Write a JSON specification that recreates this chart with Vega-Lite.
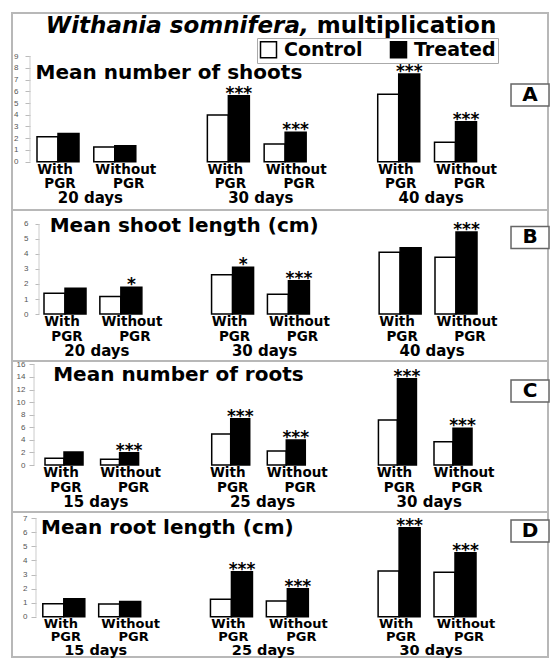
{
  "$schema": "https://vega.github.io/schema/vega-lite/v6.json",
  "background": "white",
  "padding": {"left": 11, "top": 12, "right": 0, "bottom": 0},
  "spacing": 0,
  "bounds": "flush",
  "config": {
    "view": {"stroke": "#b8b8b8", "strokeWidth": 2},
    "text": {"font": "DejaVu Sans", "fontWeight": "bold", "color": "#000"},
    "axisY": {"labelOverlap": false, "labelFlush": false, "tickCount": 30, "format": "d", "domain": false, "grid": false, "title": null, "labelFontSize": 8, "labelColor": "#555", "tickColor": "#bbb", "labelFont": "Liberation Sans"}
  },
  "resolve": {
    "scale": {"x": "independent", "y": "independent", "xOffset": "independent", "fill": "independent"},
    "legend": {"fill": "independent"}
  },
  "datasets": {
    "bars": [
      {"panel": "A", "group": "20 days|With", "day": "20 days", "cond": "With", "series": "Control", "value": 2.13, "sig": ""},
      {"panel": "A", "group": "20 days|With", "day": "20 days", "cond": "With", "series": "Treated", "value": 2.4, "sig": ""},
      {"panel": "A", "group": "20 days|Without", "day": "20 days", "cond": "Without", "series": "Control", "value": 1.25, "sig": ""},
      {"panel": "A", "group": "20 days|Without", "day": "20 days", "cond": "Without", "series": "Treated", "value": 1.35, "sig": ""},
      {"panel": "A", "group": "30 days|With", "day": "30 days", "cond": "With", "series": "Control", "value": 3.98, "sig": ""},
      {"panel": "A", "group": "30 days|With", "day": "30 days", "cond": "With", "series": "Treated", "value": 5.62, "sig": "***"},
      {"panel": "A", "group": "30 days|Without", "day": "30 days", "cond": "Without", "series": "Control", "value": 1.51, "sig": ""},
      {"panel": "A", "group": "30 days|Without", "day": "30 days", "cond": "Without", "series": "Treated", "value": 2.5, "sig": "***"},
      {"panel": "A", "group": "40 days|With", "day": "40 days", "cond": "With", "series": "Control", "value": 5.74, "sig": ""},
      {"panel": "A", "group": "40 days|With", "day": "40 days", "cond": "With", "series": "Treated", "value": 7.47, "sig": "***"},
      {"panel": "A", "group": "40 days|Without", "day": "40 days", "cond": "Without", "series": "Control", "value": 1.65, "sig": ""},
      {"panel": "A", "group": "40 days|Without", "day": "40 days", "cond": "Without", "series": "Treated", "value": 3.41, "sig": "***"},

      {"panel": "B", "group": "20 days|With", "day": "20 days", "cond": "With", "series": "Control", "value": 1.38, "sig": ""},
      {"panel": "B", "group": "20 days|With", "day": "20 days", "cond": "With", "series": "Treated", "value": 1.71, "sig": ""},
      {"panel": "B", "group": "20 days|Without", "day": "20 days", "cond": "Without", "series": "Control", "value": 1.16, "sig": ""},
      {"panel": "B", "group": "20 days|Without", "day": "20 days", "cond": "Without", "series": "Treated", "value": 1.78, "sig": "*"},
      {"panel": "B", "group": "30 days|With", "day": "30 days", "cond": "With", "series": "Control", "value": 2.62, "sig": ""},
      {"panel": "B", "group": "30 days|With", "day": "30 days", "cond": "With", "series": "Treated", "value": 3.11, "sig": "*"},
      {"panel": "B", "group": "30 days|Without", "day": "30 days", "cond": "Without", "series": "Control", "value": 1.32, "sig": ""},
      {"panel": "B", "group": "30 days|Without", "day": "30 days", "cond": "Without", "series": "Treated", "value": 2.22, "sig": "***"},
      {"panel": "B", "group": "40 days|With", "day": "40 days", "cond": "With", "series": "Control", "value": 4.11, "sig": ""},
      {"panel": "B", "group": "40 days|With", "day": "40 days", "cond": "With", "series": "Treated", "value": 4.42, "sig": ""},
      {"panel": "B", "group": "40 days|Without", "day": "40 days", "cond": "Without", "series": "Control", "value": 3.78, "sig": ""},
      {"panel": "B", "group": "40 days|Without", "day": "40 days", "cond": "Without", "series": "Treated", "value": 5.47, "sig": "***"},

      {"panel": "C", "group": "15 days|With", "day": "15 days", "cond": "With", "series": "Control", "value": 1.06, "sig": ""},
      {"panel": "C", "group": "15 days|With", "day": "15 days", "cond": "With", "series": "Treated", "value": 2.07, "sig": ""},
      {"panel": "C", "group": "15 days|Without", "day": "15 days", "cond": "Without", "series": "Control", "value": 0.9, "sig": ""},
      {"panel": "C", "group": "15 days|Without", "day": "15 days", "cond": "Without", "series": "Treated", "value": 1.96, "sig": "***"},
      {"panel": "C", "group": "25 days|With", "day": "25 days", "cond": "With", "series": "Control", "value": 4.93, "sig": ""},
      {"panel": "C", "group": "25 days|With", "day": "25 days", "cond": "With", "series": "Treated", "value": 7.36, "sig": "***"},
      {"panel": "C", "group": "25 days|Without", "day": "25 days", "cond": "Without", "series": "Control", "value": 2.23, "sig": ""},
      {"panel": "C", "group": "25 days|Without", "day": "25 days", "cond": "Without", "series": "Treated", "value": 3.97, "sig": "***"},
      {"panel": "C", "group": "30 days|With", "day": "30 days", "cond": "With", "series": "Control", "value": 7.15, "sig": ""},
      {"panel": "C", "group": "30 days|With", "day": "30 days", "cond": "With", "series": "Treated", "value": 13.7, "sig": "***"},
      {"panel": "C", "group": "30 days|Without", "day": "30 days", "cond": "Without", "series": "Control", "value": 3.7, "sig": ""},
      {"panel": "C", "group": "30 days|Without", "day": "30 days", "cond": "Without", "series": "Treated", "value": 5.83, "sig": "***"},

      {"panel": "D", "group": "15 days|With", "day": "15 days", "cond": "With", "series": "Control", "value": 0.92, "sig": ""},
      {"panel": "D", "group": "15 days|With", "day": "15 days", "cond": "With", "series": "Treated", "value": 1.28, "sig": ""},
      {"panel": "D", "group": "15 days|Without", "day": "15 days", "cond": "Without", "series": "Control", "value": 0.9, "sig": ""},
      {"panel": "D", "group": "15 days|Without", "day": "15 days", "cond": "Without", "series": "Treated", "value": 1.09, "sig": ""},
      {"panel": "D", "group": "25 days|With", "day": "25 days", "cond": "With", "series": "Control", "value": 1.24, "sig": ""},
      {"panel": "D", "group": "25 days|With", "day": "25 days", "cond": "With", "series": "Treated", "value": 3.2, "sig": "***"},
      {"panel": "D", "group": "25 days|Without", "day": "25 days", "cond": "Without", "series": "Control", "value": 1.12, "sig": ""},
      {"panel": "D", "group": "25 days|Without", "day": "25 days", "cond": "Without", "series": "Treated", "value": 1.99, "sig": "***"},
      {"panel": "D", "group": "30 days|With", "day": "30 days", "cond": "With", "series": "Control", "value": 3.25, "sig": ""},
      {"panel": "D", "group": "30 days|With", "day": "30 days", "cond": "With", "series": "Treated", "value": 6.33, "sig": "***"},
      {"panel": "D", "group": "30 days|Without", "day": "30 days", "cond": "Without", "series": "Control", "value": 3.16, "sig": ""},
      {"panel": "D", "group": "30 days|Without", "day": "30 days", "cond": "Without", "series": "Treated", "value": 4.55, "sig": "***"}
    ]
  },
  "vconcat": [
    {
      "width": 536, "height": 197,
      "layer": [
        {"data": {"name": "bars"}, "transform": [{"filter": "datum.panel == 'A'"}],
         "mark": {"type": "bar", "stroke": "#000", "strokeWidth": 1.5},
         "encoding": {
           "x": {"field": "group", "type": "nominal", "axis": null, "scale": {"domain": ["20 days|With", "20 days|Without", "gap1", "30 days|With", "30 days|Without", "gap2", "40 days|With", "40 days|Without"], "paddingInner": 0.2604, "paddingOuter": 0.8496, "align": 0.2591}},
           "xOffset": {"field": "series", "type": "nominal", "scale": {"domain": ["Control", "Treated"], "paddingInner": 0, "paddingOuter": 0}},
           "y": {"field": "value", "type": "quantitative", "scale": {"domain": [-4.114, 12.666], "nice": false, "zero": false}, "axis": {"values": [0, 1, 2, 3, 4, 5, 6, 7, 8, 9], "format": "d", "tickCount": 30, "labelOverlap": false, "offset": -18, "tickSize": 5, "labelPadding": 7}},
           "fill": {"field": "series", "type": "nominal", "scale": {"domain": ["Control", "Treated"], "range": ["#ffffff", "#000000"]},
             "legend": {"orient": "none", "legendX": 245, "legendY": 25, "direction": "horizontal", "title": null, "symbolType": "square", "symbolSize": 256, "symbolStrokeColor": "#000", "symbolStrokeWidth": 1.5, "labelFont": "DejaVu Sans", "labelFontWeight": "bold", "labelFontSize": 19, "labelColor": "#000", "labelOffset": 6, "columnPadding": 24, "strokeColor": "#aaa", "fillColor": "#fff", "padding": 2}}
         }},
        {"data": {"values": [{}]}, "mark": {"type": "rule", "color": "#ccc", "strokeWidth": 1},
         "encoding": {"x": {"datum": "20 days|With", "bandPosition": -0.1667, "axis": null}, "y": {"datum": 0}, "y2": {"datum": 9}}},
        {"data": {"name": "bars"}, "transform": [{"filter": "datum.panel == 'A' && datum.series == 'Treated'"}],
         "mark": {"type": "text", "fontSize": 17, "baseline": "alphabetic", "dy": 3},
         "encoding": {"x": {"field": "group", "type": "nominal", "bandPosition": 0.75, "axis": null}, "y": {"field": "value", "type": "quantitative"}, "text": {"field": "sig"}}},
        {"data": {"name": "bars"}, "transform": [{"filter": "datum.panel == 'A' && datum.series == 'Treated' && datum.cond == 'With'"}],
         "mark": {"type": "text", "fontSize": 13.5, "baseline": "middle", "dy": 8, "dx": -3},
         "encoding": {"x": {"field": "group", "type": "nominal", "bandPosition": 0.5, "axis": null}, "y": {"datum": 0}, "text": {"field": "cond"}}},
        {"data": {"name": "bars"}, "transform": [{"filter": "datum.panel == 'A' && datum.series == 'Treated' && datum.cond == 'Without'"}],
         "mark": {"type": "text", "fontSize": 13.5, "baseline": "middle", "dy": 8, "dx": 11},
         "encoding": {"x": {"field": "group", "type": "nominal", "bandPosition": 0.5, "axis": null}, "y": {"datum": 0}, "text": {"field": "cond"}}},
        {"data": {"name": "bars"}, "transform": [{"filter": "datum.panel == 'A' && datum.series == 'Treated' && datum.cond == 'With'"}],
         "mark": {"type": "text", "fontSize": 13.5, "baseline": "middle", "dy": 22.5, "dx": 2},
         "encoding": {"x": {"field": "group", "type": "nominal", "bandPosition": 0.5, "axis": null}, "y": {"datum": 0}, "text": {"value": "PGR"}}},
        {"data": {"name": "bars"}, "transform": [{"filter": "datum.panel == 'A' && datum.series == 'Treated' && datum.cond == 'Without'"}],
         "mark": {"type": "text", "fontSize": 13.5, "baseline": "middle", "dy": 22.5, "dx": 14},
         "encoding": {"x": {"field": "group", "type": "nominal", "bandPosition": 0.5, "axis": null}, "y": {"datum": 0}, "text": {"value": "PGR"}}},
        {"data": {"name": "bars"}, "transform": [{"filter": "datum.panel == 'A' && datum.series == 'Treated' && datum.cond == 'With'"}],
         "mark": {"type": "text", "fontSize": 15, "baseline": "middle", "dy": 36.5, "dx": 4},
         "encoding": {"x": {"field": "group", "type": "nominal", "bandPosition": 1.176, "axis": null}, "y": {"datum": 0}, "text": {"field": "day"}}},
        {"data": {"values": [{"t": "Mean number of shoots"}]}, "mark": {"type": "text", "fontSize": 20, "align": "left", "baseline": "alphabetic"},
         "encoding": {"x": {"datum": "20 days|With", "bandPosition": -0.033, "axis": null}, "y": {"datum": 7.04}, "text": {"field": "t"}}},
        {"data": {"values": [{"t": "A"}]}, "mark": {"type": "point", "shape": "M-1,-0.58L1,-0.58L1,0.58L-1,0.58Z", "size": 1444, "filled": true, "fill": "#fff", "stroke": "#666", "strokeWidth": 1.5, "opacity": 1},
         "encoding": {"x": {"datum": "40 days|Without", "bandPosition": 2.274, "axis": null}, "y": {"datum": 5.68}}},
        {"data": {"values": [{"t": "A"}]}, "mark": {"type": "text", "fontSize": 20, "align": "center", "baseline": "middle"},
         "encoding": {"x": {"datum": "40 days|Without", "bandPosition": 2.274, "axis": null}, "y": {"datum": 5.68}, "text": {"field": "t"}}},
        {"data": {"values": [{"t": "Withania somnifera,"}]}, "mark": {"type": "text", "fontSize": 23, "fontStyle": "italic", "align": "right", "baseline": "alphabetic"},
         "encoding": {"x": {"datum": "20 days|With", "bandPosition": 6.469, "axis": null}, "y": {"datum": 10.95}, "text": {"field": "t"}}},
        {"data": {"values": [{"t": "multiplication"}]}, "mark": {"type": "text", "fontSize": 23, "align": "left", "baseline": "alphabetic"},
         "encoding": {"x": {"datum": "20 days|With", "bandPosition": 6.66, "axis": null}, "y": {"datum": 10.95}, "text": {"field": "t"}}}
      ]
    },
    {
      "width": 536, "height": 151,
      "layer": [
        {"data": {"name": "bars"}, "transform": [{"filter": "datum.panel == 'B'"}],
         "mark": {"type": "bar", "stroke": "#000", "strokeWidth": 1.5},
         "encoding": {
           "x": {"field": "group", "type": "nominal", "axis": null, "scale": {"domain": ["20 days|With", "20 days|Without", "gap1", "30 days|With", "30 days|Without", "gap2", "40 days|With", "40 days|Without"], "paddingInner": 0.248, "paddingOuter": 0.922, "align": 0.3107}},
           "xOffset": {"field": "series", "type": "nominal", "scale": {"domain": ["Control", "Treated"], "paddingInner": 0, "paddingOuter": 0}},
           "y": {"field": "value", "type": "quantitative", "scale": {"domain": [-3.133, 6.933], "nice": false, "zero": false}, "axis": {"values": [0, 1, 2, 3, 4, 5, 6], "format": "d", "tickCount": 30, "labelOverlap": false, "offset": -27, "tickSize": 4, "labelPadding": 7}},
           "fill": {"field": "series", "type": "nominal", "scale": {"domain": ["Control", "Treated"], "range": ["#ffffff", "#000000"]}, "legend": null}
         }},
        {"data": {"values": [{}]}, "mark": {"type": "rule", "color": "#ccc", "strokeWidth": 1},
         "encoding": {"x": {"datum": "20 days|With", "bandPosition": -0.119, "axis": null}, "y": {"datum": 0}, "y2": {"datum": 6}}},
        {"data": {"name": "bars"}, "transform": [{"filter": "datum.panel == 'B' && datum.series == 'Treated'"}],
         "mark": {"type": "text", "fontSize": 17, "baseline": "alphabetic", "dy": 3},
         "encoding": {"x": {"field": "group", "type": "nominal", "bandPosition": 0.75, "axis": null}, "y": {"field": "value", "type": "quantitative"}, "text": {"field": "sig"}}},
        {"data": {"name": "bars"}, "transform": [{"filter": "datum.panel == 'B' && datum.series == 'Treated' && datum.cond == 'With'"}],
         "mark": {"type": "text", "fontSize": 13.5, "baseline": "middle", "dy": 8, "dx": -3},
         "encoding": {"x": {"field": "group", "type": "nominal", "bandPosition": 0.5, "axis": null}, "y": {"datum": 0}, "text": {"field": "cond"}}},
        {"data": {"name": "bars"}, "transform": [{"filter": "datum.panel == 'B' && datum.series == 'Treated' && datum.cond == 'Without'"}],
         "mark": {"type": "text", "fontSize": 13.5, "baseline": "middle", "dy": 8, "dx": 11},
         "encoding": {"x": {"field": "group", "type": "nominal", "bandPosition": 0.5, "axis": null}, "y": {"datum": 0}, "text": {"field": "cond"}}},
        {"data": {"name": "bars"}, "transform": [{"filter": "datum.panel == 'B' && datum.series == 'Treated' && datum.cond == 'With'"}],
         "mark": {"type": "text", "fontSize": 13.5, "baseline": "middle", "dy": 22.5, "dx": 2},
         "encoding": {"x": {"field": "group", "type": "nominal", "bandPosition": 0.5, "axis": null}, "y": {"datum": 0}, "text": {"value": "PGR"}}},
        {"data": {"name": "bars"}, "transform": [{"filter": "datum.panel == 'B' && datum.series == 'Treated' && datum.cond == 'Without'"}],
         "mark": {"type": "text", "fontSize": 13.5, "baseline": "middle", "dy": 22.5, "dx": 14},
         "encoding": {"x": {"field": "group", "type": "nominal", "bandPosition": 0.5, "axis": null}, "y": {"datum": 0}, "text": {"value": "PGR"}}},
        {"data": {"name": "bars"}, "transform": [{"filter": "datum.panel == 'B' && datum.series == 'Treated' && datum.cond == 'With'"}],
         "mark": {"type": "text", "fontSize": 15, "baseline": "middle", "dy": 36.5, "dx": 4},
         "encoding": {"x": {"field": "group", "type": "nominal", "bandPosition": 1.165, "axis": null}, "y": {"datum": 0}, "text": {"field": "day"}}},
        {"data": {"values": [{"t": "Mean shoot length (cm)"}]}, "mark": {"type": "text", "fontSize": 20, "align": "left", "baseline": "alphabetic"},
         "encoding": {"x": {"datum": "20 days|With", "bandPosition": 0.136, "axis": null}, "y": {"datum": 5.49}, "text": {"field": "t"}}},
        {"data": {"values": [{"t": "B"}]}, "mark": {"type": "point", "shape": "M-1,-0.58L1,-0.58L1,0.58L-1,0.58Z", "size": 1444, "filled": true, "fill": "#fff", "stroke": "#666", "strokeWidth": 1.5, "opacity": 1},
         "encoding": {"x": {"datum": "40 days|Without", "bandPosition": 2.262, "axis": null}, "y": {"datum": 5.1}}},
        {"data": {"values": [{"t": "B"}]}, "mark": {"type": "text", "fontSize": 20, "align": "center", "baseline": "middle"},
         "encoding": {"x": {"datum": "40 days|Without", "bandPosition": 2.262, "axis": null}, "y": {"datum": 5.1}, "text": {"field": "t"}}}
      ]
    },
    {
      "width": 536, "height": 151,
      "layer": [
        {"data": {"name": "bars"}, "transform": [{"filter": "datum.panel == 'C'"}],
         "mark": {"type": "bar", "stroke": "#000", "strokeWidth": 1.5},
         "encoding": {
           "x": {"field": "group", "type": "nominal", "axis": null, "scale": {"domain": ["15 days|With", "15 days|Without", "gap1", "25 days|With", "25 days|Without", "gap2", "30 days|With", "30 days|Without"], "paddingInner": 0.316, "paddingOuter": 0.9807, "align": 0.3028}},
           "xOffset": {"field": "series", "type": "nominal", "scale": {"domain": ["Control", "Treated"], "paddingInner": 0, "paddingOuter": 0}},
           "y": {"field": "value", "type": "quantitative", "scale": {"domain": [-7.472, 16.534], "nice": false, "zero": false}, "axis": {"values": [0, 2, 4, 6, 8, 10, 12, 14, 16], "format": "d", "tickCount": 30, "labelOverlap": false, "offset": -22, "tickSize": 5, "labelPadding": 4}},
           "fill": {"field": "series", "type": "nominal", "scale": {"domain": ["Control", "Treated"], "range": ["#ffffff", "#000000"]}, "legend": null}
         }},
        {"data": {"values": [{}]}, "mark": {"type": "rule", "color": "#ccc", "strokeWidth": 1},
         "encoding": {"x": {"datum": "15 days|With", "bandPosition": -0.289, "axis": null}, "y": {"datum": 0}, "y2": {"datum": 16}}},
        {"data": {"name": "bars"}, "transform": [{"filter": "datum.panel == 'C' && datum.series == 'Treated'"}],
         "mark": {"type": "text", "fontSize": 17, "baseline": "alphabetic", "dy": 3},
         "encoding": {"x": {"field": "group", "type": "nominal", "bandPosition": 0.75, "axis": null}, "y": {"field": "value", "type": "quantitative"}, "text": {"field": "sig"}}},
        {"data": {"name": "bars"}, "transform": [{"filter": "datum.panel == 'C' && datum.series == 'Treated' && datum.cond == 'With'"}],
         "mark": {"type": "text", "fontSize": 13.5, "baseline": "middle", "dy": 8, "dx": -3},
         "encoding": {"x": {"field": "group", "type": "nominal", "bandPosition": 0.5, "axis": null}, "y": {"datum": 0}, "text": {"field": "cond"}}},
        {"data": {"name": "bars"}, "transform": [{"filter": "datum.panel == 'C' && datum.series == 'Treated' && datum.cond == 'Without'"}],
         "mark": {"type": "text", "fontSize": 13.5, "baseline": "middle", "dy": 8, "dx": 11},
         "encoding": {"x": {"field": "group", "type": "nominal", "bandPosition": 0.5, "axis": null}, "y": {"datum": 0}, "text": {"field": "cond"}}},
        {"data": {"name": "bars"}, "transform": [{"filter": "datum.panel == 'C' && datum.series == 'Treated' && datum.cond == 'With'"}],
         "mark": {"type": "text", "fontSize": 13.5, "baseline": "middle", "dy": 22.5, "dx": 2},
         "encoding": {"x": {"field": "group", "type": "nominal", "bandPosition": 0.5, "axis": null}, "y": {"datum": 0}, "text": {"value": "PGR"}}},
        {"data": {"name": "bars"}, "transform": [{"filter": "datum.panel == 'C' && datum.series == 'Treated' && datum.cond == 'Without'"}],
         "mark": {"type": "text", "fontSize": 13.5, "baseline": "middle", "dy": 22.5, "dx": 14},
         "encoding": {"x": {"field": "group", "type": "nominal", "bandPosition": 0.5, "axis": null}, "y": {"datum": 0}, "text": {"value": "PGR"}}},
        {"data": {"name": "bars"}, "transform": [{"filter": "datum.panel == 'C' && datum.series == 'Treated' && datum.cond == 'With'"}],
         "mark": {"type": "text", "fontSize": 15, "baseline": "middle", "dy": 36.5, "dx": 4},
         "encoding": {"x": {"field": "group", "type": "nominal", "bandPosition": 1.231, "axis": null}, "y": {"datum": 0}, "text": {"field": "day"}}},
        {"data": {"values": [{"t": "Mean number of roots"}]}, "mark": {"type": "text", "fontSize": 20, "align": "left", "baseline": "alphabetic"},
         "encoding": {"x": {"datum": "15 days|With", "bandPosition": 0.216, "axis": null}, "y": {"datum": 13.4}, "text": {"field": "t"}}},
        {"data": {"values": [{"t": "C"}]}, "mark": {"type": "point", "shape": "M-1,-0.58L1,-0.58L1,0.58L-1,0.58Z", "size": 1444, "filled": true, "fill": "#fff", "stroke": "#666", "strokeWidth": 1.5, "opacity": 1},
         "encoding": {"x": {"datum": "30 days|Without", "bandPosition": 2.526, "axis": null}, "y": {"datum": 11.76}}},
        {"data": {"values": [{"t": "C"}]}, "mark": {"type": "text", "fontSize": 20, "align": "center", "baseline": "middle"},
         "encoding": {"x": {"datum": "30 days|Without", "bandPosition": 2.526, "axis": null}, "y": {"datum": 11.76}, "text": {"field": "t"}}}
      ]
    },
    {
      "width": 536, "height": 145,
      "layer": [
        {"data": {"name": "bars"}, "transform": [{"filter": "datum.panel == 'D'"}],
         "mark": {"type": "bar", "stroke": "#000", "strokeWidth": 1.5},
         "encoding": {
           "x": {"field": "group", "type": "nominal", "axis": null, "scale": {"domain": ["15 days|With", "15 days|Without", "gap1", "25 days|With", "25 days|Without", "gap2", "30 days|With", "30 days|Without"], "paddingInner": 0.2485, "paddingOuter": 0.9197, "align": 0.2996}},
           "xOffset": {"field": "series", "type": "nominal", "scale": {"domain": ["Control", "Treated"], "paddingInner": 0, "paddingOuter": 0}},
           "y": {"field": "value", "type": "quantitative", "scale": {"domain": [-2.866, 7.447], "nice": false, "zero": false}, "axis": {"values": [0, 1, 2, 3, 4, 5, 6, 7], "format": "d", "tickCount": 30, "labelOverlap": false, "offset": -24, "tickSize": 5, "labelPadding": 4}},
           "fill": {"field": "series", "type": "nominal", "scale": {"domain": ["Control", "Treated"], "range": ["#ffffff", "#000000"]}, "legend": null}
         }},
        {"data": {"values": [{}]}, "mark": {"type": "rule", "color": "#ccc", "strokeWidth": 1},
         "encoding": {"x": {"datum": "15 days|With", "bandPosition": -0.162, "axis": null}, "y": {"datum": 0}, "y2": {"datum": 7}}},
        {"data": {"name": "bars"}, "transform": [{"filter": "datum.panel == 'D' && datum.series == 'Treated'"}],
         "mark": {"type": "text", "fontSize": 17, "baseline": "alphabetic", "dy": 3},
         "encoding": {"x": {"field": "group", "type": "nominal", "bandPosition": 0.75, "axis": null}, "y": {"field": "value", "type": "quantitative"}, "text": {"field": "sig"}}},
        {"data": {"name": "bars"}, "transform": [{"filter": "datum.panel == 'D' && datum.series == 'Treated' && datum.cond == 'With'"}],
         "mark": {"type": "text", "fontSize": 13, "baseline": "middle", "dy": 7, "dx": -3},
         "encoding": {"x": {"field": "group", "type": "nominal", "bandPosition": 0.5, "axis": null}, "y": {"datum": 0}, "text": {"field": "cond"}}},
        {"data": {"name": "bars"}, "transform": [{"filter": "datum.panel == 'D' && datum.series == 'Treated' && datum.cond == 'Without'"}],
         "mark": {"type": "text", "fontSize": 13, "baseline": "middle", "dy": 7, "dx": 11},
         "encoding": {"x": {"field": "group", "type": "nominal", "bandPosition": 0.5, "axis": null}, "y": {"datum": 0}, "text": {"field": "cond"}}},
        {"data": {"name": "bars"}, "transform": [{"filter": "datum.panel == 'D' && datum.series == 'Treated' && datum.cond == 'With'"}],
         "mark": {"type": "text", "fontSize": 13, "baseline": "middle", "dy": 20.5, "dx": 2},
         "encoding": {"x": {"field": "group", "type": "nominal", "bandPosition": 0.5, "axis": null}, "y": {"datum": 0}, "text": {"value": "PGR"}}},
        {"data": {"name": "bars"}, "transform": [{"filter": "datum.panel == 'D' && datum.series == 'Treated' && datum.cond == 'Without'"}],
         "mark": {"type": "text", "fontSize": 13, "baseline": "middle", "dy": 20.5, "dx": 14},
         "encoding": {"x": {"field": "group", "type": "nominal", "bandPosition": 0.5, "axis": null}, "y": {"datum": 0}, "text": {"value": "PGR"}}},
        {"data": {"name": "bars"}, "transform": [{"filter": "datum.panel == 'D' && datum.series == 'Treated' && datum.cond == 'With'"}],
         "mark": {"type": "text", "fontSize": 14.5, "baseline": "middle", "dy": 34.5, "dx": 4},
         "encoding": {"x": {"field": "group", "type": "nominal", "bandPosition": 1.165, "axis": null}, "y": {"datum": 0}, "text": {"field": "day"}}},
        {"data": {"values": [{"t": "Mean root length (cm)"}]}, "mark": {"type": "text", "fontSize": 20, "align": "left", "baseline": "alphabetic"},
         "encoding": {"x": {"datum": "15 days|With", "bandPosition": -0.043, "axis": null}, "y": {"datum": 5.86}, "text": {"field": "t"}}},
        {"data": {"values": [{"t": "D"}]}, "mark": {"type": "point", "shape": "M-1,-0.58L1,-0.58L1,0.58L-1,0.58Z", "size": 1444, "filled": true, "fill": "#fff", "stroke": "#666", "strokeWidth": 1.5, "opacity": 1},
         "encoding": {"x": {"datum": "30 days|Without", "bandPosition": 2.286, "axis": null}, "y": {"datum": 6.1}}},
        {"data": {"values": [{"t": "D"}]}, "mark": {"type": "text", "fontSize": 20, "align": "center", "baseline": "middle"},
         "encoding": {"x": {"datum": "30 days|Without", "bandPosition": 2.286, "axis": null}, "y": {"datum": 6.1}, "text": {"field": "t"}}}
      ]
    }
  ]
}
